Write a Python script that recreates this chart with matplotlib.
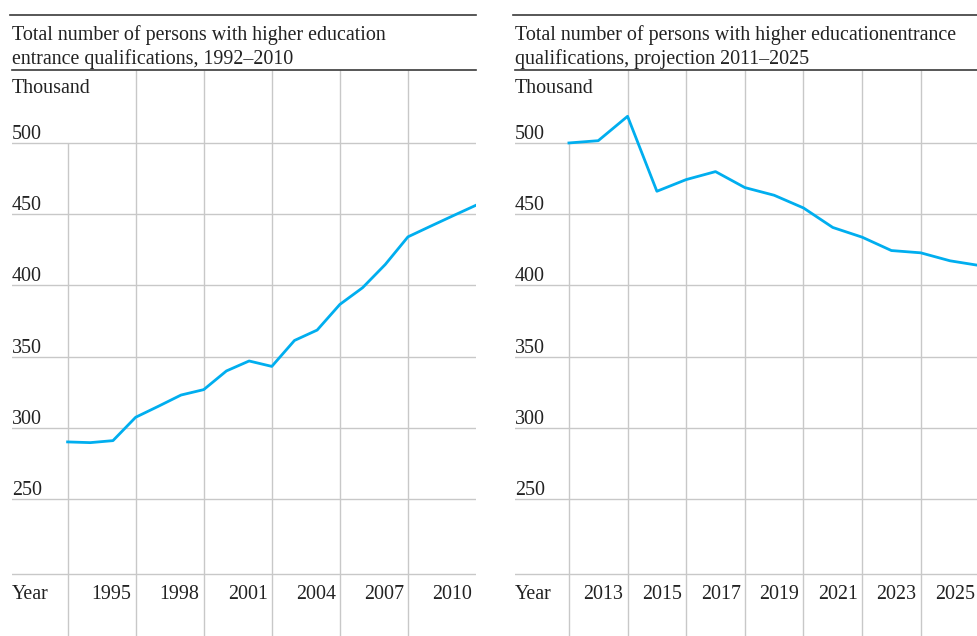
import matplotlib
matplotlib.use("Agg")
import matplotlib.pyplot as plt
from matplotlib.transforms import blended_transform_factory

plt.rcParams['font.family'] = ['Liberation Serif', 'DejaVu Serif']

# data (thousand persons)
years_hist = list(range(1992, 2011))
qual_hist = [290.2, 289.7, 291.1, 307.5, 315.2, 323.1, 326.9, 340.0, 347.0, 343.2,
             361.4, 368.7, 386.7, 398.4, 414.7, 434.1, 441.6, 449.0, 456.3]
years_proj = list(range(2011, 2026))
qual_proj = [500.0, 501.6, 518.7, 466.1, 474.3, 479.9, 468.7, 463.3, 454.4, 440.7,
             433.9, 424.5, 422.9, 417.3, 414.0]

ticks_hist = [1995, 1998, 2001, 2004, 2007, 2010]
ticks_proj = [2013, 2015, 2017, 2019, 2021, 2023, 2025]
yticks = [250, 300, 350, 400, 450, 500]

title_hist = ["Total number of persons with higher education",
              "entrance qualifications, 1992\u20132010"]
title_proj = ["Total number of persons with higher educationentrance",
              "qualifications, projection 2011\u20132025"]

LINE = '#00aeef'
GRID = '#c8c8c8'
RULE = '#3a3a3a'
TXT = '#222222'
FS = 14.4

W, H = 977, 636
fig = plt.figure(figsize=(W / 100, H / 100), dpi=100)


def panel(left_px, right_px, xlim, years, vals, ticks, title):
    ax = fig.add_axes([left_px / W, 0, (right_px - left_px) / W, (H - 70) / H])
    ax.set_xlim(*xlim)
    ax.set_ylim(154, 551.2)
    for s in ['left', 'right', 'bottom']:
        ax.spines[s].set_visible(False)
    ax.spines['top'].set_color(RULE)
    ax.spines['top'].set_linewidth(1.2)
    ax.set_xticks([])
    ax.set_yticks([])

    # horizontal grid + baseline
    for v in yticks:
        ax.axhline(v, color=GRID, lw=1.0, zorder=1)
    ax.axhline(197.5, color=GRID, lw=1.0, zorder=1)

    # vertical grid: first one starts below the top label
    ax.vlines(years[0], 154, 500, color=GRID, lw=1.0, zorder=1)
    ax.vlines(ticks[:-1], 154, 551.2, color=GRID, lw=1.0, zorder=1)

    ax.plot(years, vals, color=LINE, lw=2.0, zorder=3)

    tr = blended_transform_factory(ax.transAxes, ax.transData)
    for v in yticks:
        ax.annotate(str(v), (0, v), xycoords=tr, xytext=(0, 3), textcoords='offset points',
                    ha='left', va='baseline', fontsize=FS, color=TXT)
    ax.text(0, (H - 93) / (H - 70), "Thousand", transform=ax.transAxes, ha='left',
            va='baseline', fontsize=FS, color=TXT)
    ty = blended_transform_factory(ax.transData, ax.transAxes)
    ybase = (H - 599) / (H - 70)
    ax.text(0, ybase, "Year", transform=ax.transAxes, ha='left', va='baseline',
            fontsize=FS, color=TXT)
    for t in ticks:
        ax.annotate(str(t), (t, ybase), xycoords=ty, xytext=(-3, 0), textcoords='offset points',
                    ha='right', va='baseline', fontsize=FS, color=TXT)

    # title block with rule on top
    fig.add_artist(plt.Line2D([(left_px - 2) / W, right_px / W], [1 - 15 / H, 1 - 15 / H],
                              color=RULE, lw=1.2))
    for i, line in enumerate(title):
        fig.text(left_px / W, 1 - (40 + 24 * i) / H, line, ha='left', va='baseline',
                 fontsize=FS, color=TXT)
    return ax


panel(12, 476, (1989.55, 2010.0), years_hist, qual_hist, ticks_hist, title_hist)
panel(515, 977, (2009.16, 2024.92), years_proj, qual_proj, ticks_proj, title_proj)

fig.savefig("out.png", dpi=100)
